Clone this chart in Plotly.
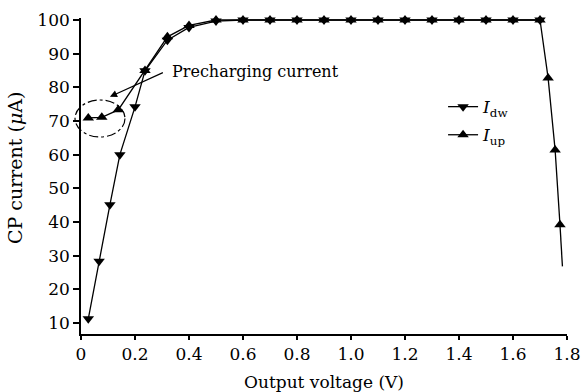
import plotly.graph_objects as go

# ---- data ----
v_dw = [0.027, 0.067, 0.107, 0.144, 0.2, 0.237, 0.32, 0.4, 0.5, 0.6, 0.7, 0.8, 0.9, 1.0, 1.1, 1.2, 1.3, 1.4, 1.5, 1.6, 1.7]
i_dw = [11.2, 28.3, 45.1, 60.0, 74.2, 84.9, 94.0, 97.8, 99.7, 100, 100, 100, 100, 100, 100, 100, 100, 100, 100, 100, 100]

v_up = [0.027, 0.077, 0.138, 0.237, 0.32, 0.4, 0.5, 0.6, 0.7, 0.8, 0.9, 1.0, 1.1, 1.2, 1.3, 1.4, 1.5, 1.6, 1.7, 1.73, 1.756, 1.774, 1.783]
i_up = [70.9, 71.1, 73.3, 85.0, 95.0, 98.4, 100, 100, 100, 100, 100, 100, 100, 100, 100, 100, 100, 100, 100, 82.8, 61.4, 39.2, 26.8]

x_ticks = [0, 0.2, 0.4, 0.6, 0.8, 1.0, 1.2, 1.4, 1.6, 1.8]
x_tick_labels = ["0", "0.2", "0.4", "0.6", "0.8", "1.0", "1.2", "1.4", "1.6", "1.8"]
y_ticks = [10, 20, 30, 40, 50, 60, 70, 80, 90, 100]

FONT = "DejaVu Serif"

fig = go.Figure()
fig.add_trace(go.Scatter(
    x=v_dw, y=i_dw, mode="lines+markers", name="<i>I</i><sub>dw</sub>",
    legendgroup="dw",
    line=dict(color="black", width=1.3),
    marker=dict(symbol="triangle-down", size=10, color="black"),
    cliponaxis=False,
))
# last up point is a line end without a marker
fig.add_trace(go.Scatter(
    x=v_up[-2:], y=i_up[-2:], mode="lines", showlegend=False,
    line=dict(color="black", width=1.3), cliponaxis=False,
))
fig.add_trace(go.Scatter(
    x=v_up[:-1], y=i_up[:-1], mode="lines+markers", name="<i>I</i><sub>up</sub>",
    legendgroup="up",
    line=dict(color="black", width=1.3),
    marker=dict(symbol="triangle-up", size=10, color="black"),
    cliponaxis=False,
))

# dash-dot ellipse around precharging points
fig.add_shape(type="circle", xref="x domain", yref="y domain",
              x0=-0.0123, x1=0.0905, y0=0.6234, y1=0.7405,
              line=dict(color="black", width=1.2, dash="dashdot"))

# label and arrow
fig.add_annotation(x=0.33, y=84.6, xref="x", yref="y", text="Precharging current",
                   showarrow=False, xanchor="left", yanchor="middle",
                   font=dict(family=FONT, size=16, color="black"))
fig.add_annotation(x=0.107, y=77.2, xref="x", yref="y", text=" ",
                   showarrow=True, ax=55, ay=-25, axref="pixel", ayref="pixel",
                   arrowhead=2, arrowsize=1.2, arrowwidth=1.2, arrowcolor="black",
                   font=dict(size=2))

# y-axis title
fig.add_annotation(x=-0.1358, y=0.525, xref="paper", yref="paper",
                   text="CP current (<i>μ</i>A)", textangle=-90, showarrow=False,
                   xanchor="center", yanchor="middle",
                   font=dict(family=FONT, size=19, color="black"))

fig.update_layout(
    width=585, height=392,
    margin=dict(l=81, r=18, t=18, b=58, autoexpand=False),
    paper_bgcolor="white", plot_bgcolor="white",
    font=dict(family=FONT, size=17, color="black"),
    showlegend=True,
    legend=dict(x=0.745, y=0.775, xanchor="left", yanchor="top",
                bgcolor="rgba(0,0,0,0)", font=dict(family=FONT, size=17),
                tracegroupgap=3),
)
fig.update_xaxes(
    range=[0, 1.8], tickvals=x_ticks, ticktext=x_tick_labels,
    showline=True, linecolor="black", linewidth=1.6,
    ticks="outside", ticklen=4, tickwidth=1.5, tickcolor="black",
    showgrid=False, zeroline=False, mirror=False, automargin=False,
    title=dict(text="Output voltage (V)", font=dict(family=FONT, size=17), standoff=17),
)
fig.update_yaxes(
    range=[6.7, 100.6], tickvals=y_ticks, automargin=False,
    showline=True, linecolor="black", linewidth=1.6,
    ticks="outside", ticklen=6, tickwidth=1.5, tickcolor="black",
    showgrid=False, zeroline=False, mirror=False,
)

fig.write_html("out.html")
